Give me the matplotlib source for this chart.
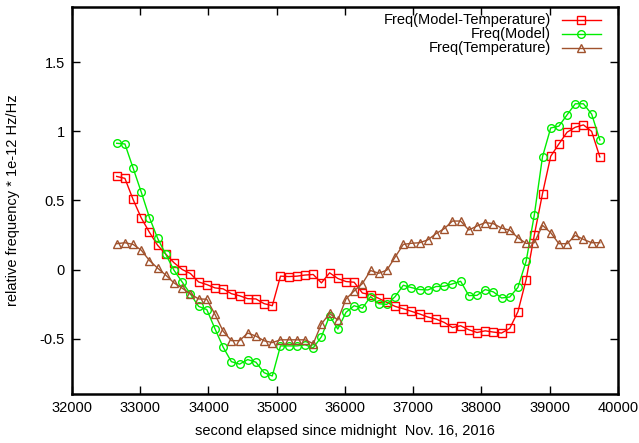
import matplotlib
matplotlib.use("Agg")
import matplotlib.pyplot as plt
from matplotlib.lines import Line2D
from matplotlib.ticker import FixedLocator, FuncFormatter

plt.rcParams['font.family'] = ['Liberation Sans', 'DejaVu Sans']
plt.rcParams['axes.unicode_minus'] = False

# seconds since midnight (sampled every 120 s)
seconds = [32655, 32775, 32895, 33015, 33135, 33255, 33375, 33495, 33615, 33735,
           33855, 33975, 34095, 34215, 34335, 34455, 34575, 34695, 34815, 34935,
           35055, 35175, 35295, 35415, 35535, 35655, 35775, 35895, 36015, 36135,
           36255, 36375, 36495, 36615, 36735, 36855, 36975, 37095, 37215, 37335,
           37455, 37575, 37695, 37815, 37935, 38055, 38175, 38295, 38415, 38535,
           38655, 38775, 38895, 39015, 39135, 39255, 39375, 39495, 39615, 39735]

freq_model_minus_temp = [
    0.674, 0.660, 0.507, 0.373, 0.269, 0.175, 0.111, 0.049, 0.000, -0.029,
    -0.090, -0.109, -0.133, -0.140, -0.175, -0.190, -0.211, -0.213, -0.247, -0.262,
    -0.048, -0.051, -0.048, -0.040, -0.036, -0.097, -0.024, -0.065, -0.087, -0.092,
    -0.170, -0.182, -0.209, -0.238, -0.267, -0.284, -0.303, -0.322, -0.344, -0.359,
    -0.383, -0.420, -0.407, -0.436, -0.456, -0.444, -0.453, -0.460, -0.426, -0.305,
    -0.073, 0.250, 0.550, 0.820, 0.909, 0.994, 1.030, 1.047, 1.000, 0.815]

freq_model = [
    0.914, 0.909, 0.735, 0.560, 0.376, 0.225, 0.109, -0.006, -0.091, -0.177,
    -0.267, -0.290, -0.429, -0.562, -0.667, -0.685, -0.652, -0.671, -0.747, -0.771,
    -0.553, -0.553, -0.553, -0.545, -0.567, -0.487, -0.335, -0.431, -0.310, -0.262,
    -0.281, -0.196, -0.248, -0.252, -0.196, -0.114, -0.131, -0.145, -0.148, -0.123,
    -0.121, -0.104, -0.085, -0.189, -0.187, -0.145, -0.162, -0.206, -0.199, -0.129,
    0.060, 0.395, 0.817, 1.025, 1.038, 1.120, 1.200, 1.200, 1.125, 0.938]

freq_temperature = [
    0.187, 0.194, 0.182, 0.140, 0.065, 0.010, -0.041, -0.097, -0.135, -0.177,
    -0.213, -0.215, -0.325, -0.447, -0.515, -0.515, -0.460, -0.482, -0.516, -0.529,
    -0.509, -0.509, -0.509, -0.509, -0.537, -0.394, -0.318, -0.366, -0.213, -0.155,
    -0.102, -0.007, -0.027, -0.004, 0.090, 0.182, 0.190, 0.194, 0.215, 0.260,
    0.296, 0.351, 0.351, 0.286, 0.315, 0.340, 0.332, 0.300, 0.285, 0.230,
    0.189, 0.194, 0.320, 0.267, 0.187, 0.187, 0.247, 0.218, 0.194, 0.194]

labels = ['Freq(Model-Temperature)', 'Freq(Model)', 'Freq(Temperature)']
colors = ['#ff0000', '#00ee00', '#a0522d']
markers = ['s', 'o', '^']
msizes = [5.5, 5.5, 5.5]

fig = plt.figure(figsize=(6.39, 4.43), dpi=100)
ax = fig.add_axes([0.1127, 0.111, 0.8543, 0.873])

series = [freq_model_minus_temp, freq_model, freq_temperature]
for vals, col, mk, ms in zip(series, colors, markers, msizes):
    ax.plot(seconds, vals, color=col, lw=1.0, marker=mk, markersize=ms,
            markerfacecolor='none', markeredgecolor=col, markeredgewidth=1.0)

ax.set_xlim(32000, 40000)
ax.set_ylim(-0.9, 1.9)
ax.xaxis.set_major_locator(FixedLocator([32000, 33000, 34000, 35000, 36000, 37000, 38000, 39000, 40000]))
ax.yaxis.set_major_locator(FixedLocator([-0.5, 0, 0.5, 1, 1.5]))
ax.yaxis.set_major_formatter(FuncFormatter(lambda v, p: '%g' % v))
ax.tick_params(direction='in', length=6, width=1, top=True, right=True, labelsize=10.5, pad=5)
for s in ax.spines.values():
    s.set_linewidth(1.8)

ax.set_xlabel('second elapsed since midnight  Nov. 16, 2016', fontsize=10.5, labelpad=7)
ax.set_ylabel('relative frequency * 1e-12 Hz/Hz', fontsize=10.5, labelpad=14)

# gnuplot-style key: right-aligned text followed by the line sample
key_rows = [0.966, 0.930, 0.894]
for lab, col, mk, ms, yk in zip(labels, colors, markers, msizes, key_rows):
    ax.text(0.877, yk, lab, transform=ax.transAxes, ha='right', va='center', fontsize=10.5)
    ax.add_line(Line2D([0.897, 0.969], [yk, yk], transform=ax.transAxes, color=col, lw=1.0))
    ax.add_line(Line2D([0.933], [yk], transform=ax.transAxes, marker=mk, markersize=ms,
                       markerfacecolor='none', markeredgecolor=col, markeredgewidth=1.0,
                       linestyle='none'))

fig.savefig('out.png', dpi=100)
